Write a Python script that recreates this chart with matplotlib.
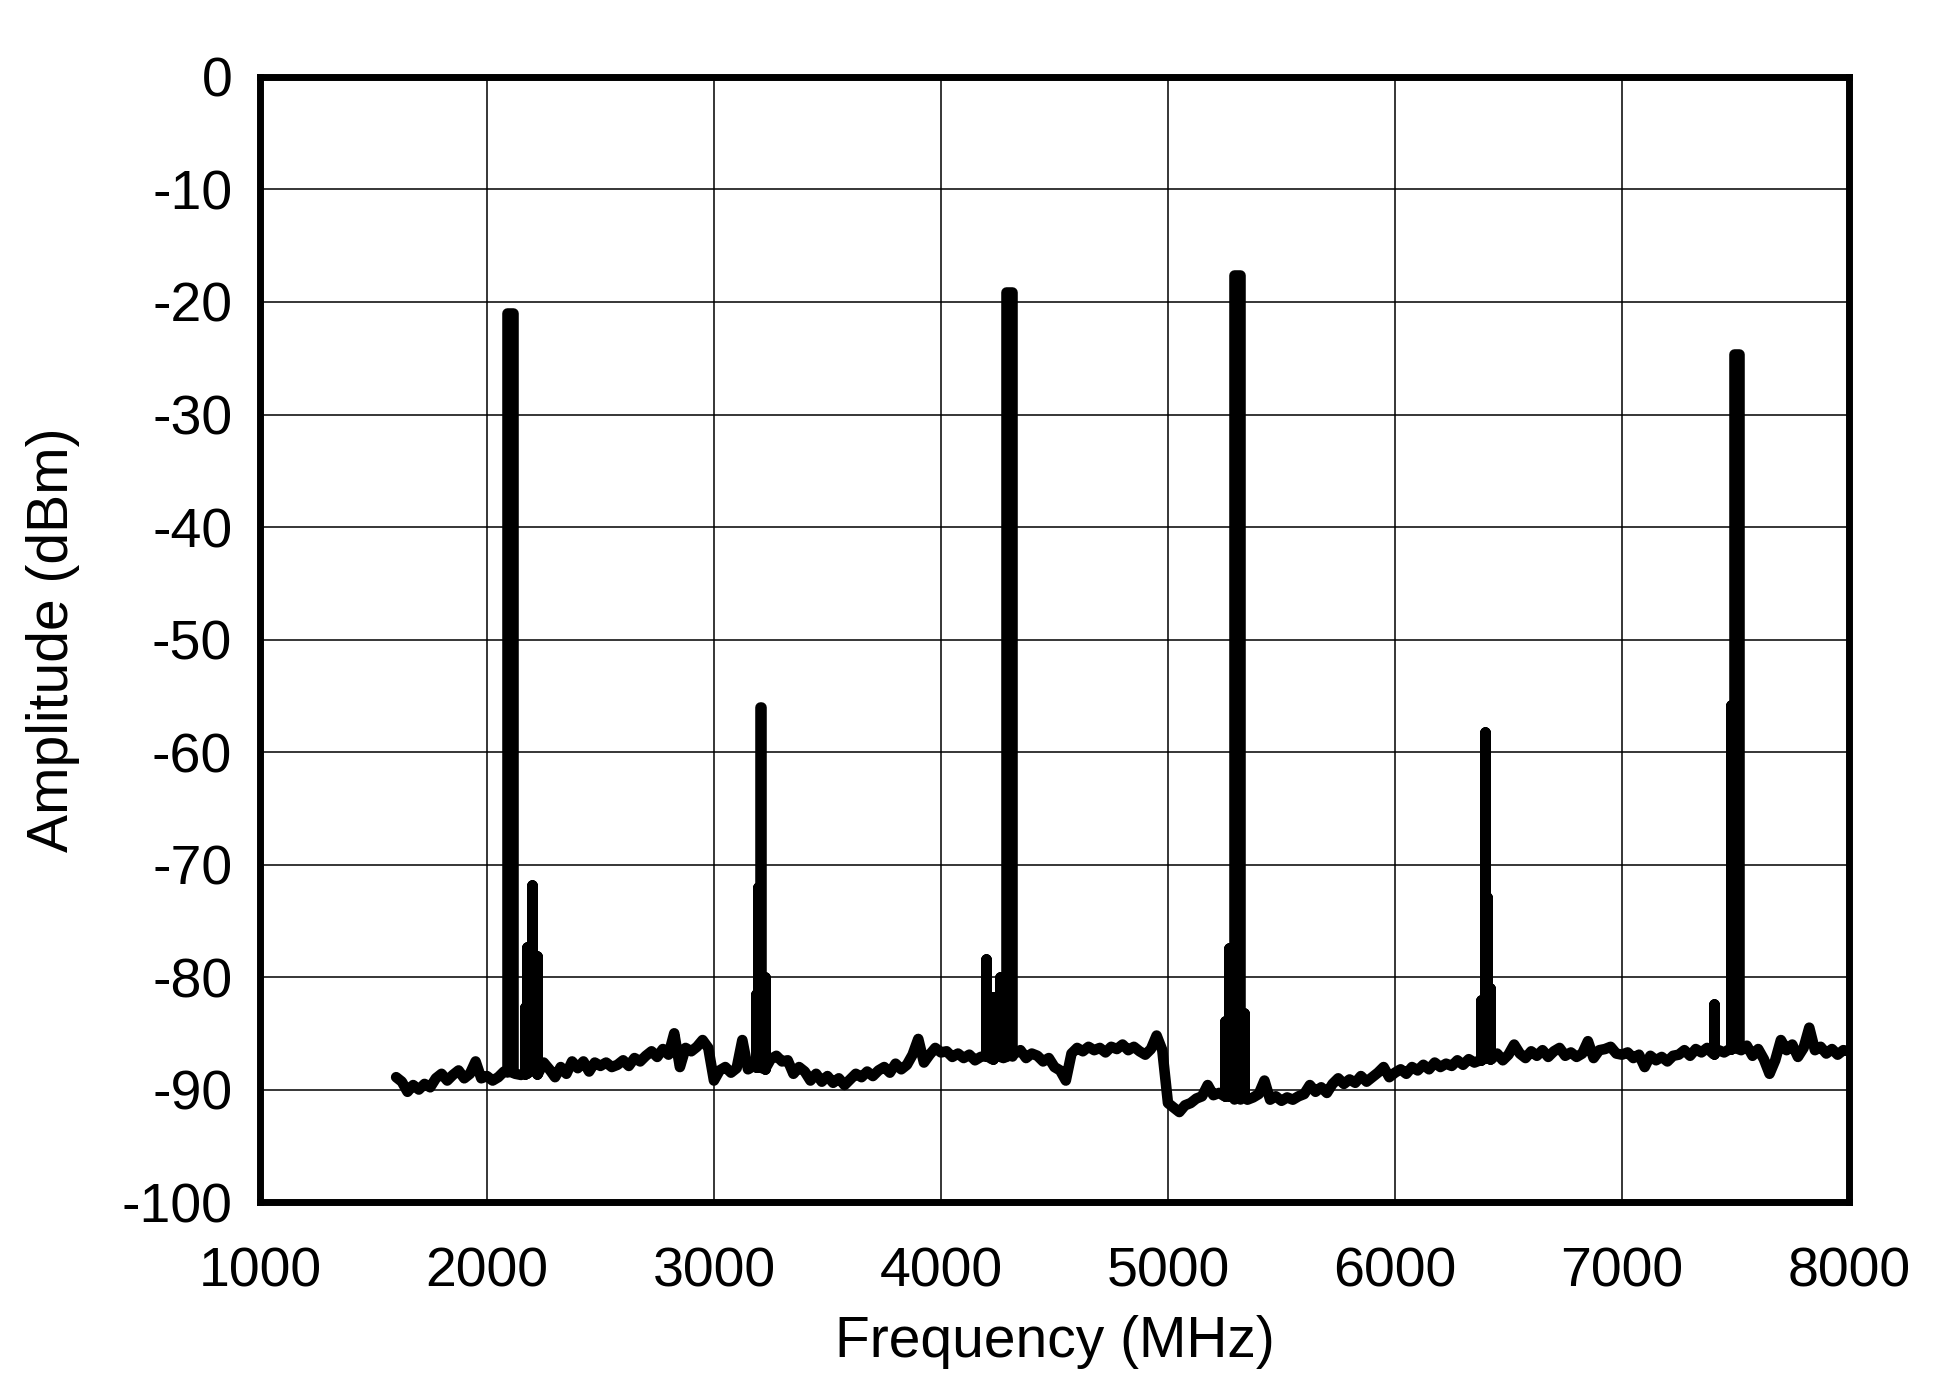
import numpy as np
import matplotlib
matplotlib.use("Agg")
import matplotlib.pyplot as plt

plt.rcParams['font.family'] = ['Liberation Sans', 'DejaVu Sans']

# noise floor, every 25 MHz from 1600 MHz (dBm)
floor_start = 1600
floor_step = 25
floor_amp = [
    -88.9, -89.3, -90.2, -89.6,   # 1600
    -90.0, -89.5, -89.8, -89.0,   # 1700
    -88.6, -89.2, -88.7, -88.3,   # 1800
    -89.0, -88.6, -87.5, -89.0,   # 1900
    -88.8, -89.2, -88.9, -88.4,   # 2000
    -88.4, -88.6, -88.7, -88.5,   # 2100
    -88.3, -88.6, -87.6, -88.2,   # 2200
    -88.9, -88.0, -88.6, -87.5,   # 2300
    -88.1, -87.5, -88.4, -87.6,   # 2400
    -87.9, -87.6, -88.0, -87.8,   # 2500
    -87.4, -87.9, -87.2, -87.5,   # 2600
    -87.0, -86.6, -87.1, -86.4,   # 2700
    -86.9, -85.0, -88.0, -86.3,   # 2800
    -86.6, -86.2, -85.6, -86.3,   # 2900
    -89.2, -88.3, -88.0, -88.5,   # 3000
    -88.1, -85.6, -88.2, -87.9,   # 3100
    -88.0, -88.2, -87.3, -87.0,   # 3200
    -87.5, -87.4, -88.6, -88.0,   # 3300
    -88.4, -89.2, -88.6, -89.3,   # 3400
    -88.8, -89.4, -89.0, -89.6,   # 3500
    -89.1, -88.6, -88.9, -88.4,   # 3600
    -88.8, -88.3, -88.0, -88.5,   # 3700
    -87.7, -88.2, -87.8, -86.9,   # 3800
    -85.5, -87.6, -86.9, -86.3,   # 3900
    -86.7, -86.6, -87.1, -86.8,   # 4000
    -87.2, -86.9, -87.4, -87.1,   # 4100
    -87.0, -87.3, -87.0, -87.2,   # 4200
    -87.0, -86.8, -86.5, -87.2,   # 4300
    -86.8, -87.0, -87.5, -87.2,   # 4400
    -88.0, -88.3, -89.2, -86.8,   # 4500
    -86.3, -86.6, -86.2, -86.5,   # 4600
    -86.3, -86.7, -86.2, -86.4,   # 4700
    -86.0, -86.5, -86.2, -86.6,   # 4800
    -86.9, -86.4, -85.2, -86.5,   # 4900
    -91.2, -91.6, -92.0, -91.4,   # 5000
    -91.2, -90.8, -90.6, -89.6,   # 5100
    -90.5, -90.3, -90.6, -90.6,   # 5200
    -90.8, -90.6, -90.9, -90.7,   # 5300
    -90.4, -89.2, -90.9, -90.6,   # 5400
    -91.0, -90.7, -90.9, -90.6,   # 5500
    -90.4, -89.6, -90.2, -89.8,   # 5600
    -90.3, -89.5, -89.0, -89.5,   # 5700
    -89.1, -89.4, -88.8, -89.3,   # 5800
    -88.9, -88.5, -88.0, -88.9,   # 5900
    -88.5, -88.2, -88.6, -88.0,   # 6000
    -88.3, -87.8, -88.2, -87.6,   # 6100
    -88.0, -87.7, -87.9, -87.4,   # 6200
    -87.8, -87.3, -87.6, -87.4,   # 6300
    -87.2, -87.3, -86.8, -87.4,   # 6400
    -86.9, -86.0, -86.8, -87.2,   # 6500
    -86.6, -87.0, -86.5, -87.1,   # 6600
    -86.6, -86.3, -87.0, -86.7,   # 6700
    -87.1, -86.8, -85.7, -87.2,   # 6800
    -86.5, -86.4, -86.2, -86.8,   # 6900
    -86.9, -86.7, -87.2, -86.9,   # 7000
    -88.0, -87.0, -87.4, -87.1,   # 7100
    -87.5, -87.0, -86.9, -86.5,   # 7200
    -87.0, -86.4, -86.7, -86.3,   # 7300
    -86.8, -86.5, -86.7, -86.4,   # 7400
    -86.3, -86.5, -86.1, -87.0,   # 7500
    -86.4, -87.3, -88.6, -87.4,   # 7600
    -85.6, -86.5, -86.0, -87.1,   # 7700
    -86.3, -84.5, -86.5, -86.2,   # 7800
    -86.8, -86.4, -86.9, -86.5,   # 7900
    -86.6,                        # 8000
]

# tones and spurs: lower edge (MHz), upper edge (MHz), peak (dBm), floor under it (dBm)
spur_lo = [2088, 2168, 2178, 2200, 2222,
           3184, 3195, 3204, 3226,
           4200, 4231, 4260, 4286,
           5250, 5269, 5289, 5335,
           6379, 6396, 6406, 6420,
           7405, 7482, 7492]
spur_hi = [2114, 2168, 2178, 2200, 2222,
           3184, 3195, 3208, 3226,
           4200, 4231, 4260, 4313,
           5250, 5269, 5316, 5335,
           6379, 6396, 6406, 6420,
           7405, 7482, 7516]
spur_top = [-21.0, -82.7, -77.3, -71.8, -78.1,
            -81.5, -72.0, -56.0, -80.0,
            -78.4, -81.8, -80.0, -19.1,
            -83.9, -77.4, -17.6, -83.2,
            -82.0, -58.2, -72.9, -81.0,
            -82.4, -55.8, -24.6]
spur_base = [-88.4, -88.6, -88.5, -88.3, -88.6,
             -88.0, -88.0, -88.0, -88.2,
             -87.0, -87.3, -87.0, -87.0,
             -90.6, -90.6, -90.8, -90.7,
             -87.4, -87.2, -87.2, -87.3,
             -86.8, -86.4, -86.3]

x_ticks = [1000, 2000, 3000, 4000, 5000, 6000, 7000, 8000]
y_ticks = [0, -10, -20, -30, -40, -50, -60, -70, -80, -90, -100]

floor_freq = floor_start + floor_step * np.arange(len(floor_amp))

fig = plt.figure(figsize=(19.5, 13.82), dpi=100)
ax = fig.add_axes([0.1333, 0.1302, 0.8149, 0.8141])

lw = 7.6
ax.plot(floor_freq, floor_amp, color="black", lw=lw,
        solid_joinstyle="round", solid_capstyle="round", zorder=3)
for lo, hi, top, base in zip(spur_lo, spur_hi, spur_top, spur_base):
    ax.plot([lo, lo, hi, hi], [base, top, top, base], color="black", lw=lw,
            solid_joinstyle="round", solid_capstyle="round", zorder=3)

ax.set_xlim(1000, 8000)
ax.set_ylim(-100, 0)
ax.set_xticks(x_ticks)
ax.set_yticks(y_ticks)
ax.set_xticklabels([str(t) for t in x_ticks])
ax.set_yticklabels([str(t) for t in y_ticks])
ax.grid(True, color="black", lw=1.1)
ax.set_axisbelow(True)
ax.tick_params(axis="both", length=0, labelsize=40)
ax.tick_params(axis="x", pad=32)
ax.tick_params(axis="y", pad=20)
for s in ax.spines.values():
    s.set_linewidth(5)
    s.set_zorder(5)

ax.set_xlabel("Frequency (MHz)", fontsize=41, labelpad=12)
ax.set_ylabel("Amplitude (dBm)", fontsize=41, labelpad=30)

fig.savefig("out.png", dpi=100)
